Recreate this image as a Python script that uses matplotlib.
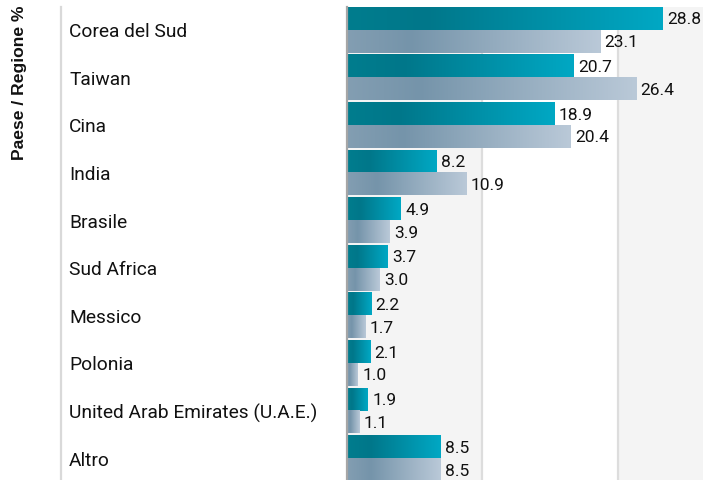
import matplotlib
matplotlib.use("Agg")
import matplotlib.pyplot as plt
import numpy as np
from matplotlib.colors import LinearSegmentedColormap
from matplotlib.lines import Line2D
from matplotlib.transforms import blended_transform_factory

# data
paesi = ["Corea del Sud", "Taiwan", "Cina", "India", "Brasile", "Sud Africa",
         "Messico", "Polonia", "United Arab Emirates (U.A.E.)", "Altro"]
fondo = [28.8, 20.7, 18.9, 8.2, 4.9, 3.7, 2.2, 2.1, 1.9, 8.5]
indice = [23.1, 26.4, 20.4, 10.9, 3.9, 3.0, 1.7, 1.0, 1.1, 8.5]
griglia = [12.35, 24.7]

cm_teal = LinearSegmentedColormap.from_list(
    "teal", [(0, "#007d8e"), (0.25, "#00778a"), (1, "#00a8c4")])
cm_grigio = LinearSegmentedColormap.from_list(
    "grigio", [(0, "#839eb2"), (0.25, "#7594aa"), (1, "#bac9d8")])

W, H = 703, 481
fig = plt.figure(figsize=(W / 100, H / 100), dpi=100)
# axes from x=347px to right edge, rows 47.6px each starting at y=8px
ax = fig.add_axes([347 / W, (481 - 484) / H, 356 / W, 476 / H])
xmax = 356 / 10.96

# background bands + grid
ax.axvspan(0, griglia[0], color="#f4f4f4", zorder=0, lw=0)
ax.axvspan(griglia[1], xmax + 1, color="#f4f4f4", zorder=0, lw=0)
for g in griglia:
    ax.axvline(g, color="#dddddd", lw=1.6, zorder=1)

grad = np.linspace(0, 1, 256).reshape(1, -1)
font_lab = "Roboto"
trans_lab = blended_transform_factory(fig.transFigure, ax.transData)
for i in range(len(paesi)):
    ax.imshow(grad, cmap=cm_teal, aspect="auto", interpolation="bilinear",
              extent=[0, fondo[i], i - 0.02, i - 0.5], zorder=2)
    ax.imshow(grad, cmap=cm_grigio, aspect="auto", interpolation="bilinear",
              extent=[0, indice[i], i + 0.46, i - 0.02], zorder=2)
    ax.text(fondo[i] + 0.4, i - 0.25, f"{fondo[i]:.1f}", va="center", ha="left",
            fontsize=12.5, family=font_lab, color="#111111", zorder=3)
    ax.text(indice[i] + 0.4, i + 0.23, f"{indice[i]:.1f}", va="center", ha="left",
            fontsize=12.5, family=font_lab, color="#111111", zorder=3)
    ax.text(69 / W, i + 0.01, paesi[i], transform=trans_lab, va="center", ha="left",
            fontsize=13.8, family=font_lab, color="#111111")

ax.set_xlim(0, xmax)
ax.set_ylim(9.5, -0.5)
ax.set_xticks([])
ax.set_yticks([])
for s in ["top", "right", "bottom"]:
    ax.spines[s].set_visible(False)
ax.spines["left"].set_color("#a6a6a6")
ax.spines["left"].set_linewidth(1.6)
ax.spines["left"].set_zorder(4)

# separator line of the label column
fig.add_artist(Line2D([60.5 / W, 60.5 / W], [0, 1 - 8 / H], transform=fig.transFigure,
                      color="#d9d9d9", lw=1.6))

fig.text(20 / W, 1 - 5 / H, "Paese / Regione %", rotation=90, ha="center", va="top",
         fontsize=12.6, fontweight="bold", family="Liberation Sans", color="#111111")

fig.savefig("out.png", dpi=100)
